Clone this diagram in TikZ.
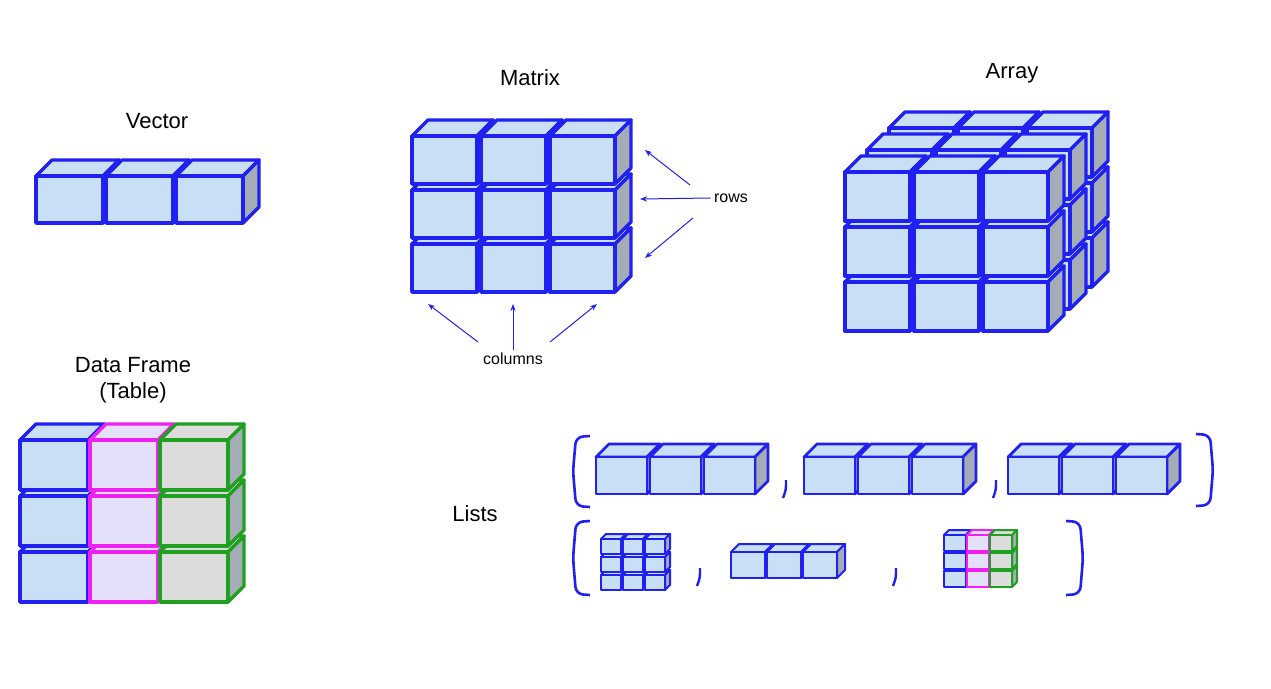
\documentclass[tikz,border=0pt]{standalone}
\usepackage{fontspec}
\setmainfont{Liberation Sans}
\usetikzlibrary{arrows.meta}
\definecolor{cb}{HTML}{C9DFF5}
\definecolor{bl}{HTML}{2020F0}
\definecolor{mg}{HTML}{F020F0}
\definecolor{lav}{HTML}{E4E0FA}
\definecolor{gn}{HTML}{20A020}
\definecolor{gy}{HTML}{DCDCDC}
\definecolor{sd}{HTML}{A4ACB6}
\newcommand\mycube[7]{% x y w h d fill draw
 \filldraw[fill=#6,draw=#7] (#1,#2) -- ++(#5,-#5) -- ++(#3,0) -- ++(-#5,#5) -- cycle;
 \filldraw[fill=sd,draw=#7] (#1+#3,#2) -- ++(#5,-#5) -- ++(0,#4) -- ++(-#5,#5) -- cycle;
 \filldraw[fill=#6,draw=#7] (#1,#2) rectangle ++(#3,#4);}
% grid: x y w h gapx gapy d ncols nrows
\newcommand\mygrid[9]{%
 \foreach \r in {#9,...,1}{\foreach \c in {1,...,#8}{%
  \pgfmathsetmacro\xx{#1+(\c-1)*(#3+#5)}\pgfmathsetmacro\yy{#2+(\r-1)*(#4+#6)}%
  \mycube{\xx}{\yy}{#3}{#4}{#7}{cb}{bl}}}}
\newcommand\mydf[9]{%
 \foreach \r in {#9,...,1}{\foreach \c/\f/\d in {1/cb/bl,2/lav/mg,3/gy/gn}{%
  \pgfmathsetmacro\xx{#1+(\c-1)*(#3+#5)}\pgfmathsetmacro\yy{#2+(\r-1)*(#4+#6)}%
  \mycube{\xx}{\yy}{#3}{#4}{#7}{\f}{\d}}}}
\tikzset{lbl/.style={font=\fontsize{22}{26}\selectfont},
 sm/.style={font=\fontsize{16}{19}\selectfont},
 ar/.style={draw=bl,line width=1pt,-{Stealth[length=7pt]}},
 br/.style={draw=bl,line width=2.6pt,rounded corners=7pt}}
\begin{document}
\begin{tikzpicture}[x=1pt,y=-1pt,line join=round]
\useasboundingbox[fill=white] (0,0) rectangle (1271,688);
\begin{scope}[line width=3.4pt]
\mygrid{36}{176}{67}{47}{3}{0}{16}{3}{1}
\mygrid{412}{136}{65}{48}{4}{6}{16}{3}{3}
\mygrid{889}{128}{65}{49}{4}{6}{16}{3}{3}
\mygrid{867}{150}{65}{49}{4}{6}{16}{3}{3}
\mygrid{845}{172}{65}{49}{4}{6}{16}{3}{3}
\mydf{20}{440}{68}{50}{2}{6}{16}{3}{3}
\end{scope}
\begin{scope}[line width=2.8pt]
\mygrid{596}{457}{51}{37}{3}{0}{13}{3}{1}
\mygrid{804}{457}{51}{37}{3}{0}{13}{3}{1}
\mygrid{1008}{457}{51}{37}{3}{0}{13}{3}{1}
\end{scope}
\begin{scope}[line width=2pt]
\mygrid{601}{539}{20}{15}{2}{3}{5}{3}{3}
\mygrid{731}{552}{34}{26}{2}{0}{8}{3}{1}
\mydf{944}{535}{22}{16}{1}{2}{5}{3}{3}
\end{scope}
\node[lbl] (vec) at (157,121) {Vector};
\node[lbl] (mat) at (530,78) {Matrix};
\node[lbl] (arr) at (1012,73) {Array};
\node[lbl,align=center] (df) at (133,380) {Data Frame\\(Table)};
\node[lbl] (lst) at (475,514) {Lists};
\node[sm] (rows) at (731,198) {rows};
\node[sm] (cols) at (513,359) {columns};
\coordinate (r1) at (645,150); \coordinate (r2) at (640,199); \coordinate (r3) at (645,258);
\coordinate (c1) at (428,304); \coordinate (c2) at (513,304); \coordinate (c3) at (597,304);
\draw[ar] (690,185) -- (r1); \draw[ar] (rows.west) -- (r2); \draw[ar] (693,218) -- (r3);
\draw[ar] (478,342) -- (c1); \draw[ar] (cols.north) -- (c2); \draw[ar] (550,342) -- (c3);
\draw[br] (590,436) -- (576,437) -- (573,471) -- (576,506) -- (590,507);
\draw[br] (1196,434) -- (1210,435) -- (1213,470) -- (1210,505) -- (1196,506);
\draw[br] (590,521) -- (576,522) -- (573,558) -- (576,594) -- (590,595);
\draw[br] (1066,521) -- (1080,522) -- (1083,558) -- (1080,594) -- (1066,595);
\foreach \x/\y in {783/488,993/488,697/576,893/576}
 \draw[draw=bl,line width=2.4pt] (\x+3,\y-8) .. controls (\x+3,\y+2) .. (\x,\y+10);
\end{tikzpicture}
\end{document}
